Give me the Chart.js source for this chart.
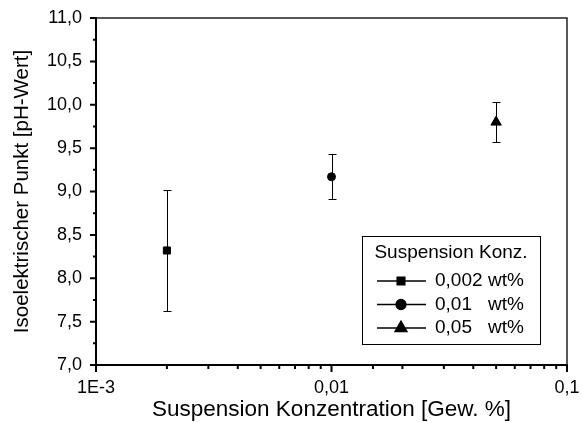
<!DOCTYPE html>
<html>
<head>
<meta charset="utf-8">
<style>
  body { margin: 0; background: #fff; }
  #wrap { position: relative; width: 582px; height: 423px; }
</style>
</head>
<body>
<div id="wrap">
  <canvas id="chart" width="582" height="423"></canvas>
</div>

<script src="https://cdn.jsdelivr.net/npm/chart.js"></script>

<script>
  // data
  const concentrations = [0.002, 0.01, 0.05]
  const iepValues = [8.32, 9.17, 9.80]
  const errLow = [7.62, 8.91, 9.57]
  const errHigh = [9.02, 9.43, 10.03]
  const seriesLabels = ['0,002', '0,01', '0,05']
  const seriesStyles = ['rect', 'circle', 'triangle']
  const seriesRadius = [5, 4, 6]
  const legendRadius = [5.5, 5, 7]

  const xTickValues = [0.001, 0.01, 0.1]
  const xTickLabels = ['1E-3', '0,01', '0,1']

  const FONT = "'Liberation Sans', Arial, sans-serif"
  Chart.defaults.font.family = FONT
  Chart.defaults.color = '#000'

  function xLabel(v) {
    const i = xTickValues.findIndex(t => Math.abs(t - v) / t < 1e-6)
    return i >= 0 ? xTickLabels[i] : ''
  }

  function isPow10(v) {
    const l = Math.log10(v)
    return Math.abs(l - Math.round(l)) < 1e-6
  }

  const errorBars = {
    id: 'errorBars',
    beforeDatasetsDraw(chart) {
      const { ctx, scales: { x, y } } = chart
      ctx.save()
      ctx.strokeStyle = '#000'
      ctx.lineWidth = 1
      concentrations.forEach((c, i) => {
        const px = Math.round(x.getPixelForValue(c)) + 0.5
        const lo = Math.round(y.getPixelForValue(errLow[i])) + 0.5
        const hi = Math.round(y.getPixelForValue(errHigh[i])) + 0.5
        ctx.beginPath()
        ctx.moveTo(px, lo); ctx.lineTo(px, hi)
        ctx.moveTo(px - 4, lo); ctx.lineTo(px + 4, lo)
        ctx.moveTo(px - 4, hi); ctx.lineTo(px + 4, hi)
        ctx.stroke()
      })
      ctx.restore()
    }
  }

  const frame = {
    id: 'frame',
    afterDraw(chart) {
      const { ctx, chartArea: a, scales: { x, y } } = chart
      ctx.save()
      ctx.strokeStyle = '#222'
      ctx.lineWidth = 1.5
      ctx.beginPath()
      ctx.moveTo(a.left, a.top); ctx.lineTo(a.right, a.top); ctx.lineTo(a.right, a.bottom)
      ctx.stroke()

      // tick marks (major + minor), outward
      ctx.strokeStyle = '#000'
      ctx.lineWidth = 2
      ctx.beginPath()
      y.ticks.forEach((t, i) => {
        const py = y.getPixelForValue(t.value)
        ctx.moveTo(a.left, py); ctx.lineTo(a.left - 6, py)
        if (i < y.ticks.length - 1) {
          const pm = y.getPixelForValue((t.value + y.ticks[i + 1].value) / 2)
          ctx.moveTo(a.left, pm); ctx.lineTo(a.left - 3, pm)
        }
      })
      x.ticks.forEach(t => {
        const px = x.getPixelForValue(t.value)
        ctx.moveTo(px, a.bottom); ctx.lineTo(px, a.bottom + (isPow10(t.value) ? 7 : 4))
      })
      ctx.stroke()

      // legend box
      const bx = 362, by = 236, bw = 178, bh = 108
      ctx.lineWidth = 1
      ctx.strokeRect(bx + 0.5, by + 0.5, bw, bh)
      ctx.fillStyle = '#000'
      ctx.font = '19px ' + FONT
      ctx.textBaseline = 'middle'
      ctx.textAlign = 'center'
      ctx.fillText('Suspension Konz.', bx + bw / 2, by + 17)
      ctx.textAlign = 'left'
      seriesLabels.forEach((lab, i) => {
        const ry = by + 45 + i * 23.5
        ctx.lineWidth = 1.3
        ctx.beginPath()
        ctx.moveTo(377, ry); ctx.lineTo(426, ry)
        ctx.stroke()
        Chart.helpers.drawPoint(ctx, { pointStyle: seriesStyles[i], radius: legendRadius[i], rotation: 0, borderWidth: 1 }, 401, ry)
        ctx.fill()
        ctx.fillText(lab, 435, ry)
        ctx.fillText('wt%', 488, ry)
      })
      ctx.restore()
    }
  }

  new Chart(document.getElementById('chart'), {
    type: 'scatter',
    data: {
      datasets: concentrations.map((c, i) => ({
        label: seriesLabels[i] + ' wt%',
        data: [{ x: c, y: iepValues[i] }],
        pointStyle: seriesStyles[i],
        pointRadius: seriesRadius[i],
        backgroundColor: '#000',
        borderColor: '#000',
        borderWidth: 1
      }))
    },
    options: {
      responsive: false,
      animation: false,
      layout: { padding: { top: 18, right: 15, left: 0, bottom: 0 } },
      plugins: { legend: { display: false }, tooltip: { enabled: false } },
      scales: {
        x: {
          type: 'logarithmic',
          min: 0.001,
          max: 0.1,
          grid: { display: false, drawTicks: false, tickLength: 0 },
          border: { display: true, color: '#000', width: 2 },
          ticks: {
            autoSkip: false,
            maxRotation: 0,
            padding: 12,
            font: { size: 18 },
            callback: v => xLabel(v)
          },
          title: {
            display: true,
            text: 'Suspension Konzentration [Gew. %]',
            font: { size: 22.5 },
            padding: { top: 0, bottom: 0 }
          },
          afterFit: s => {
            s.height = 58
            s.paddingLeft = 0
            s.paddingRight = 0
          }
        },
        y: {
          min: 7,
          max: 11,
          grid: { display: false, drawTicks: false, tickLength: 0 },
          border: { display: true, color: '#000', width: 2 },
          ticks: {
            stepSize: 0.5,
            padding: 14,
            font: { size: 18 },
            callback: v => v.toFixed(1).replace('.', ',')
          },
          title: {
            display: true,
            text: 'Isoelektrischer Punkt [pH-Wert]',
            font: { size: 20.5 },
            padding: { top: 10, bottom: 0 }
          },
          afterFit: s => {
            s.width = 96
            s.paddingTop = 0
            s.paddingBottom = 0
          }
        }
      }
    },
    plugins: [errorBars, frame]
  })
</script>
</body>
</html>
